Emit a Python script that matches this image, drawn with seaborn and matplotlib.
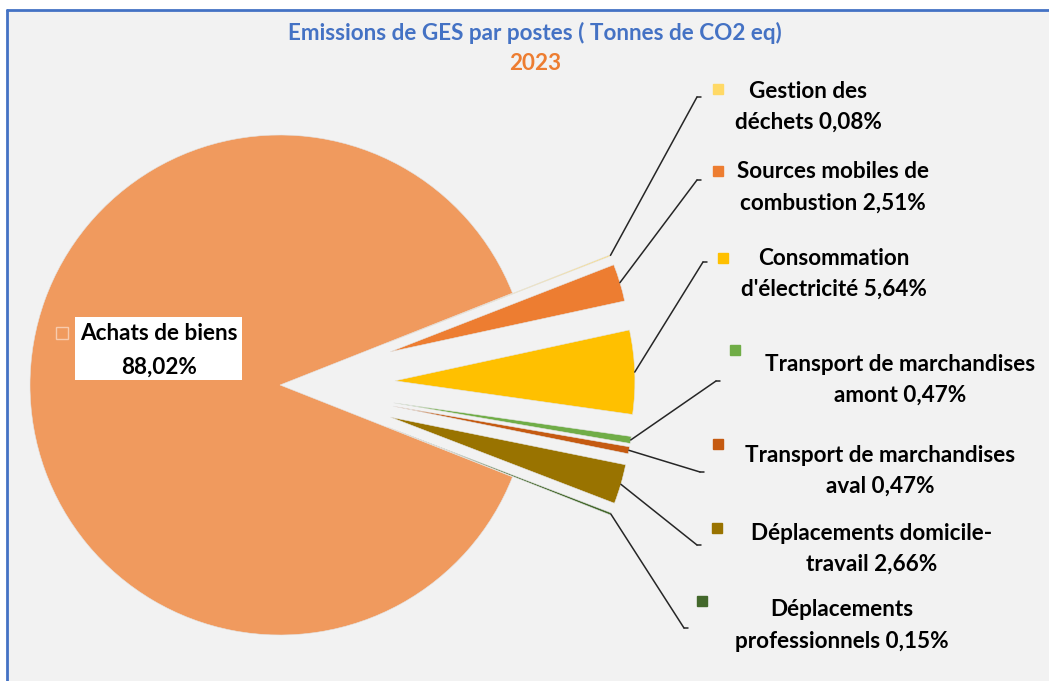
import numpy as np
import seaborn as sns
import matplotlib.pyplot as plt

sns.set_theme(style="white")
plt.rcParams['font.family'] = ['Lato', 'DejaVu Sans']

# Données (% des émissions de GES, 2023)
postes = ["Déplacements professionnels", "Déplacements domicile-travail",
          "Transport de marchandises aval", "Transport de marchandises amont",
          "Consommation d'électricité", "Sources mobiles de combustion",
          "Gestion des déchets", "Achats de biens"]
parts = [0.15, 2.66, 0.47, 0.47, 5.64, 2.51, 0.08, 88.02]
couleurs = ["#43682B", "#997300", "#C55A11", "#70AD47",
            "#FFC000", "#ED7D31", "#FFD966", "#F09A5E"]
etiquettes = ["Déplacements\nprofessionnels 0,15%",
              "Déplacements domicile-\ntravail 2,66%",
              "Transport de marchandises\naval 0,47%",
              "Transport de marchandises\namont 0,47%",
              "Consommation\nd'électricité 5,64%",
              "Sources mobiles de\ncombustion 2,51%",
              "Gestion des\ndéchets 0,08%",
              "Achats de biens\n88,02%"]

W, H = 1049, 681
FS = 16.2
fig = plt.figure(figsize=(W / 100, H / 100), dpi=100)
fig.patch.set_facecolor("white")
# fond gris du cadre
fig.patches.append(plt.Rectangle((7 / W, 0), 1, 1 - 10 / H, transform=fig.transFigure,
                                 facecolor="#F2F2F2", edgecolor="none", zorder=-2))
fig.lines.append(plt.Line2D([7 / W, 1], [1 - 10 / H, 1 - 10 / H], transform=fig.transFigure,
                            color="#4472C4", lw=2))
fig.lines.append(plt.Line2D([7 / W, 7 / W], [0, 1 - 10 / H], transform=fig.transFigure,
                            color="#4472C4", lw=2))

ax = fig.add_axes([0, 0, 1, 1])
ax.set_facecolor("none")

total_petits = sum(parts[:-1])
start = -total_petits / 100 * 360 / 2
explode = [0.46] * 7 + [0]
wedges, _ = ax.pie(parts, colors=couleurs, startangle=start, counterclock=True,
                   explode=explode, radius=1.0,
                   wedgeprops=dict(edgecolor="#E4E4E4", linewidth=0.4))
for w in wedges[:-1]:
    w.set_radius(0.96)

scale = 250.0
cx, cy = 280, 385
ax.set_xlim(-cx / scale, (W - cx) / scale)
ax.set_ylim(-(H - cy) / scale, cy / scale)
ax.axis("off")

def fig_xy(px, py):
    return px / W, 1 - py / H

# positions des étiquettes : (départ du trait, marqueur, centre du texte)
pos = [
    ((684, 628), (702, 601), (842, 610)),
    ((697, 545), (717, 528), (872, 533)),
    ((700, 472), (718, 444), (880, 455)),
    ((716, 381), (735, 350), (900, 364)),
    ((703, 262), (723, 258), (834, 258)),
    ((697, 180), (718, 171), (833, 172)),
    ((697, 97), (718, 89), (808, 91)),
]

for i, (w, (ls, mk, tx)) in enumerate(zip(wedges[:-1], pos)):
    ang = np.deg2rad((w.theta1 + w.theta2) / 2)
    ex = w.center[0] + w.r * np.cos(ang)
    ey = w.center[1] + w.r * np.sin(ang)
    sx, sy = fig_xy(*ls)
    ax.annotate("", xy=(ex, ey), xycoords="data",
                xytext=(sx, sy), textcoords="figure fraction",
                arrowprops=dict(arrowstyle="-", color="#262626", lw=1.1,
                                shrinkA=0, shrinkB=0))
    fig.lines.append(plt.Line2D([sx, sx + 4 / W], [sy, sy], transform=fig.transFigure,
                                color="#262626", lw=1.1))
    mx, my = fig_xy(*mk)
    fig.lines.append(plt.Line2D([mx], [my], transform=fig.transFigure, marker="s",
                                ms=7, color=couleurs[i], lw=0))
    t1, t2 = etiquettes[i].split("\n")
    tx_, ty_ = fig_xy(*tx)
    fig.text(tx_, ty_, t1, ha="center", va="center", fontsize=FS,
             fontweight="bold", color="black")
    fig.text(tx_, ty_ - 31 / H, t2, ha="center", va="center", fontsize=FS,
             fontweight="bold", color="black")

# étiquette du grand secteur
fig.patches.append(plt.Rectangle(fig_xy(75, 380), 167 / W, 63 / H, transform=fig.transFigure,
                                 facecolor="white", edgecolor="none", zorder=3))
mx, my = fig_xy(62, 333)
fig.lines.append(plt.Line2D([mx], [my], transform=fig.transFigure, marker="s", ms=8,
                            markerfacecolor=couleurs[-1], markeredgecolor="#F8CBAD",
                            markeredgewidth=1, lw=0, zorder=4))
tx_, ty_ = fig_xy(159, 334)
fig.text(tx_, ty_, "Achats de biens", ha="center", va="center", fontsize=FS,
         fontweight="bold", color="black", zorder=5)
fig.text(tx_, ty_ - 33 / H, "88,02%", ha="center", va="center", fontsize=FS,
         fontweight="bold", color="black", zorder=5)

# titre
fig.text(*fig_xy(535, 33), "Emissions de GES par postes ( Tonnes de CO2 eq)",
         ha="center", va="center", fontsize=FS, fontweight="bold", color="#4472C4")
fig.text(*fig_xy(535, 63), "2023", ha="center", va="center", fontsize=FS,
         fontweight="bold", color="#ED7D31")

fig.savefig("out.png", dpi=100, facecolor=fig.get_facecolor())
